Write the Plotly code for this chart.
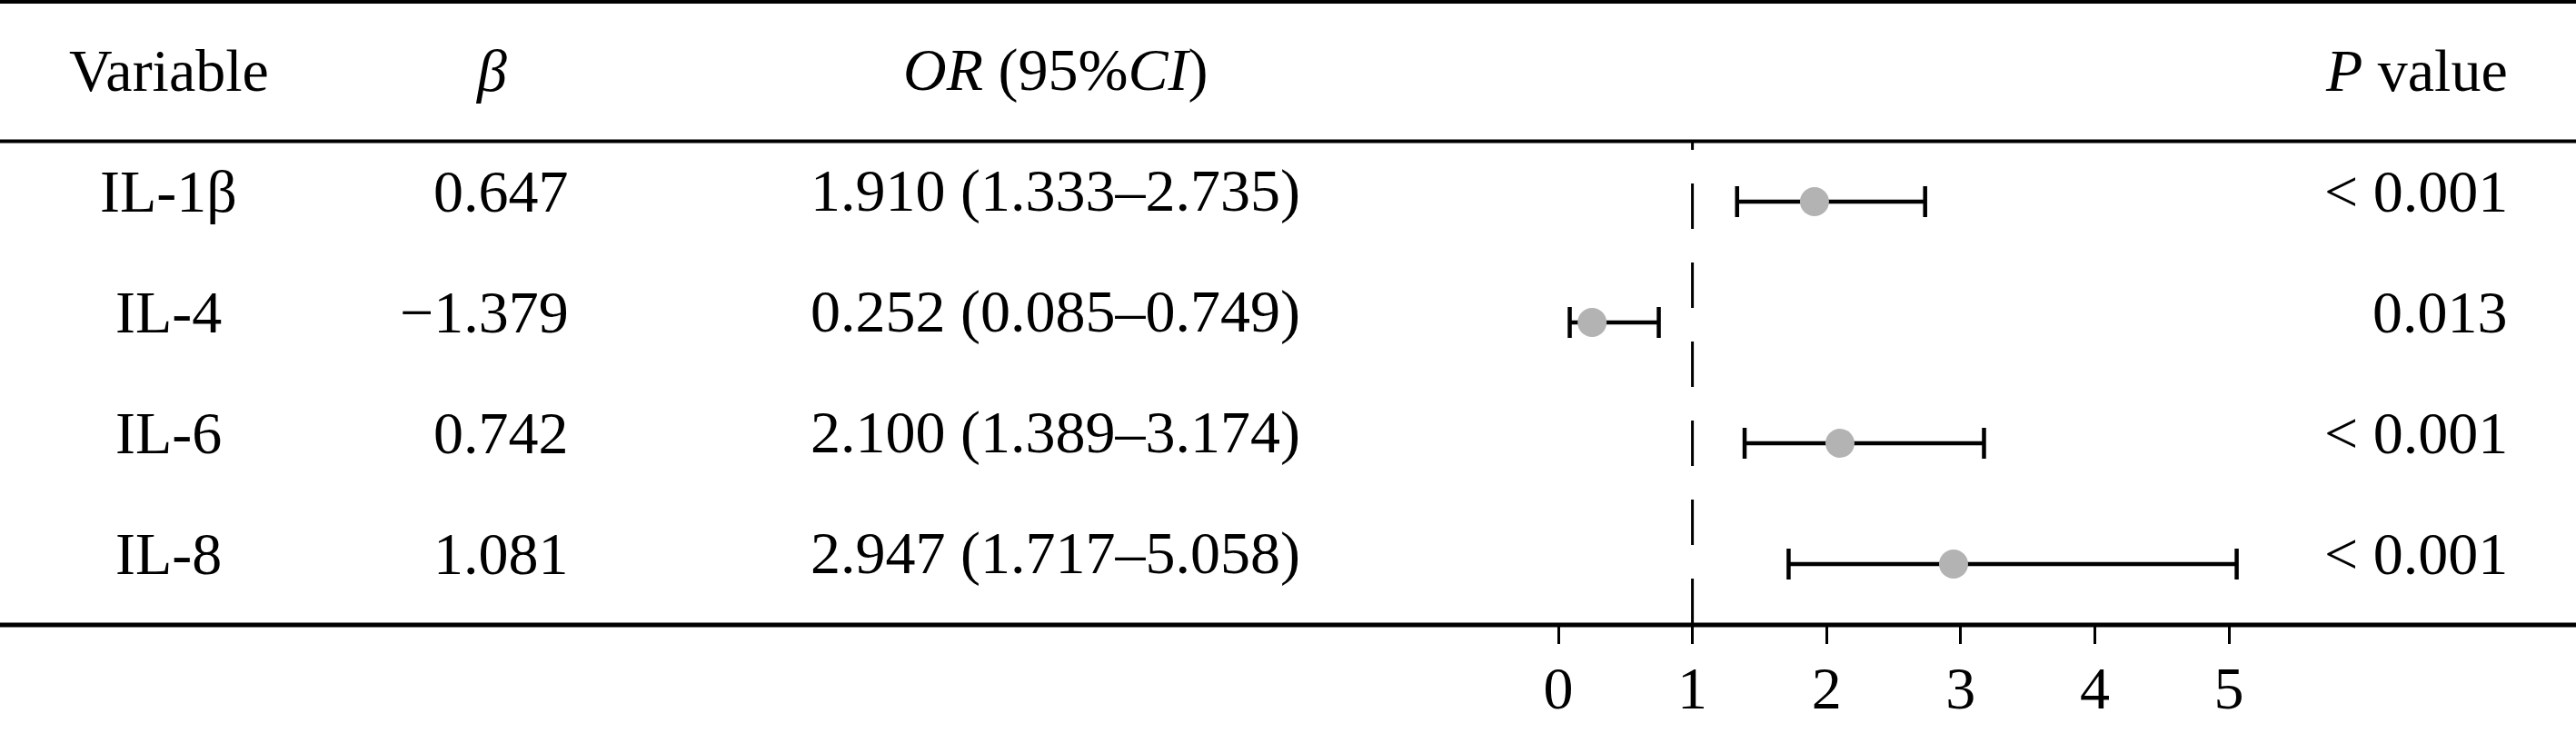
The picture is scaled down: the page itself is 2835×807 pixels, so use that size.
import plotly.graph_objects as go

# ---------------- data ----------------
variables = ["IL-1β", "IL-4", "IL-6", "IL-8"]
beta = ["0.647", "−1.379", "0.742", "1.081"]
odds_ratio = [1.910, 0.252, 2.100, 2.947]
ci_low = [1.333, 0.085, 1.389, 1.717]
ci_high = [2.735, 0.749, 3.174, 5.058]
p_values = ["< 0.001", "0.013", "< 0.001", "< 0.001"]
x_ticks = [0, 1, 2, 3, 4, 5]
headers = ["Variable", "<i>β</i>", "<i>OR</i> (95%<i>CI</i>)", "<i>P</i> value"]
ref_value = 1

# ---------------- layout constants ----------------
W, H = 2835, 807
FONT = "Liberation Serif, Times New Roman, serif"
FS = 66
plot_bottom = 688          # pixel row of the bottom rule / x axis
row0_px, row_step = 222, 133
x0_px, unit_px = 1715, 147.6

rows = list(range(len(variables)))
or_text = [f"{o:.3f} ({l:.3f}–{h:.3f})" for o, l, h in zip(odds_ratio, ci_low, ci_high)]

x_range = [(0 - x0_px) / unit_px, (W - x0_px) / unit_px]
y_range = [(plot_bottom - row0_px) / row_step, (0 - row0_px) / row_step]

def px_x(p):
    return p / W

def px_y(p):  # paper y for pixel row (plot area spans 0..plot_bottom)
    return 1 - p / plot_bottom

fig = go.Figure()
fig.add_trace(go.Scatter(
    x=odds_ratio, y=rows, mode="markers",
    marker=dict(size=32, color="#b3b3b3", line=dict(width=0)),
    error_x=dict(type="data", symmetric=False,
                 array=[h - o for h, o in zip(ci_high, odds_ratio)],
                 arrayminus=[o - l for o, l in zip(odds_ratio, ci_low)],
                 color="black", thickness=4.5, width=17),
    hoverinfo="skip", showlegend=False,
))

# columns: (pixel x, anchor)
col_var = (186, "center")
col_beta_head = (540, "center")
col_beta = (628, "right")
col_or = (1161, "center")
col_p = (2762, "right")

ann = []
def txt(x_px, anchor, y, text):
    ann.append(dict(x=px_x(x_px), xref="paper", xanchor=anchor,
                    y=y, yref="y", yanchor="middle", yshift=12,
                    text=text, showarrow=False,
                    font=dict(family=FONT, size=FS, color="black")))

hy = -1
txt(col_var[0], col_var[1], hy, headers[0])
txt(col_beta_head[0], col_beta_head[1], hy, headers[1])
txt(col_or[0], col_or[1], hy, headers[2])
txt(col_p[0], col_p[1], hy, headers[3])
for i in rows:
    txt(col_var[0], col_var[1], i, variables[i])
    txt(col_beta[0], col_beta[1], i, beta[i])
    txt(col_or[0], col_or[1], i, or_text[i])
    txt(col_p[0], col_p[1], i, p_values[i])

shapes = [
    dict(type="line", xref="paper", yref="paper", x0=0, x1=1,
         y0=px_y(2), y1=px_y(2), line=dict(color="black", width=4)),
    dict(type="line", xref="paper", yref="paper", x0=0, x1=1,
         y0=px_y(155.5), y1=px_y(155.5), line=dict(color="black", width=4)),
    dict(type="line", xref="paper", yref="paper", x0=0, x1=1,
         y0=px_y(plot_bottom), y1=px_y(plot_bottom), line=dict(color="black", width=5)),
    dict(type="line", xref="x", yref="paper", x0=ref_value, x1=ref_value,
         y0=px_y(plot_bottom - 1), y1=px_y(155.5),
         line=dict(color="black", width=3, dash="50px,37px")),
]

fig.update_layout(
    width=W, height=H,
    margin=dict(l=0, r=0, t=0, b=H - plot_bottom, pad=0),
    paper_bgcolor="white", plot_bgcolor="white",
    annotations=ann, shapes=shapes,
    xaxis=dict(range=x_range, domain=[0, 1], showgrid=False, zeroline=False,
               showline=False, tickmode="array", tickvals=x_ticks,
               ticktext=[str(t) for t in x_ticks],
               ticks="outside", ticklen=20, tickwidth=3, tickcolor="black",
               ticklabelstandoff=-8,
               tickfont=dict(family=FONT, size=FS, color="black")),
    yaxis=dict(range=y_range, visible=False, showgrid=False, zeroline=False),
)

fig.write_html(
    "out.html",
    config={"displayModeBar": False, "staticPlot": True},
    post_script="document.body.style.margin='0';document.body.style.overflow='hidden';",
)
